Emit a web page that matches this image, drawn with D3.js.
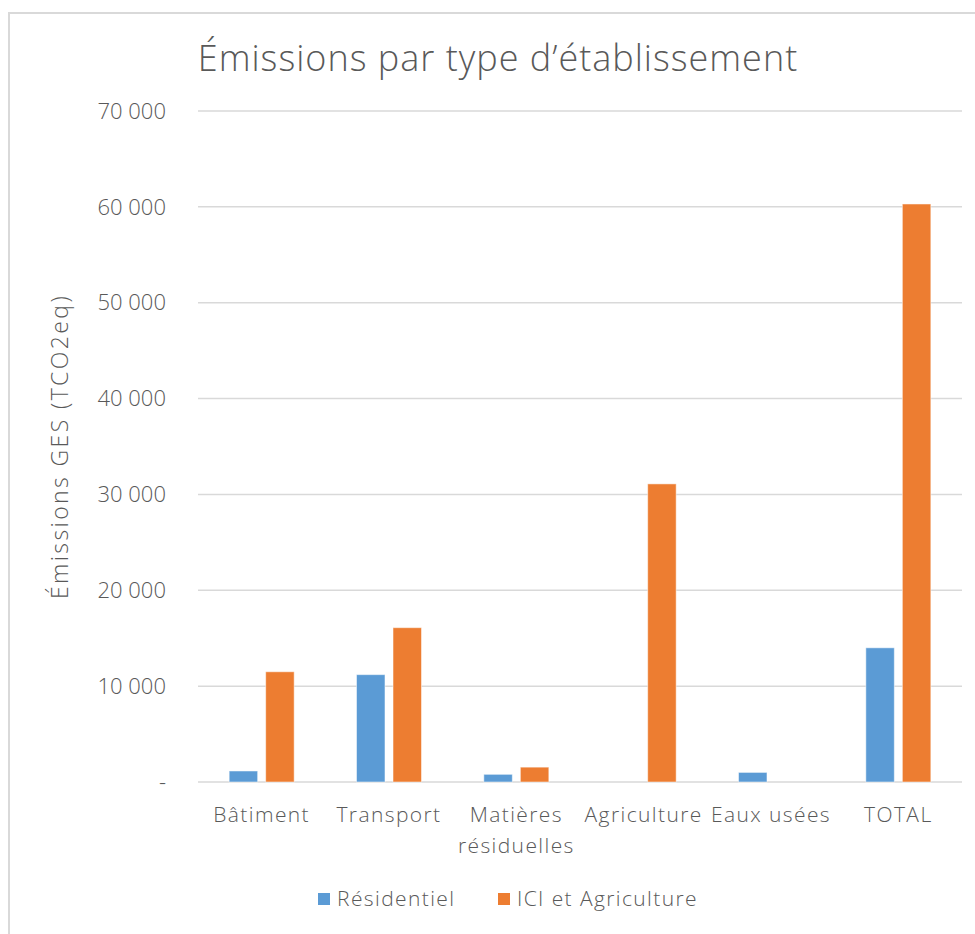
<!DOCTYPE html>
<html lang="fr">
<head>
<meta charset="UTF-8">
<title>Émissions par type d'établissement</title>
<style>
    body{ margin:0; background:white; }
    svg text{ font-family: "Open Sans", Lato, sans-serif; fill:#595959; font-weight:300; }
</style>
</head>
<body>
<script src="https://d3js.org/d3.v7.min.js"></script>
<script>

var categories = ["Bâtiment", "Transport", "Matières résiduelles", "Agriculture", "Eaux usées", "TOTAL"];
var series = ["Résidentiel", "ICI et Agriculture"];
var residentiel = [1150, 11200, 800, 0, 1000, 14000];
var iciAgriculture = [11500, 16100, 1550, 31100, 0, 60300];
var yTicks = [0, 10000, 20000, 30000, 40000, 50000, 60000, 70000];
var colors = ["#5b9bd5", "#ed7d31"];

var width = 975, height = 934;
var mLeft = 198, mRight = 962, mTop = 111, mBottom = 782;

var svg = d3.select("body").append("svg")
    .attr("width", width)
    .attr("height", height);

// frame
svg.append("rect")
    .attr("x", 9).attr("y", 13)
    .attr("width", width + 20).attr("height", height + 20)
    .style("fill", "white")
    .style("stroke", "#d9d9d9")
    .style("stroke-width", 2);

var x = d3.scaleBand()
    .domain(categories)
    .range([mLeft, mRight])
    .paddingInner(0).paddingOuter(0);

var y = d3.scaleLinear()
    .domain([0, 70000])
    .range([mBottom, mTop]);

var x1 = d3.scaleBand()
    .domain(series)
    .range([x.bandwidth()/2 - 32.5, x.bandwidth()/2 + 32.5])
    .paddingInner(0.22);

var fmt = function(d){ return d === 0 ? "-" : d3.format(",")(d).replace(/,/g, " "); };

// gridlines
svg.append("g").selectAll("line")
    .data(yTicks).enter().append("line")
    .attr("x1", mLeft).attr("x2", mRight)
    .attr("y1", function(d){ return y(d); })
    .attr("y2", function(d){ return y(d); })
    .style("stroke", "#d9d9d9")
    .style("stroke-width", 1.5);

// y axis labels
svg.append("g").selectAll("text")
    .data(yTicks).enter().append("text")
    .attr("x", 166)
    .attr("y", function(d){ return y(d); })
    .attr("dy", "0.35em")
    .attr("text-anchor", "end")
    .style("font-size", "22px")
    .text(fmt);

// bars
var rows = categories.map(function(c, i){
    return { cat: c, values: [residentiel[i], iciAgriculture[i]] };
});

var groups = svg.append("g").selectAll("g")
    .data(rows).enter().append("g")
    .attr("transform", function(d){ return "translate(" + x(d.cat) + ",0)"; });

groups.selectAll("rect")
    .data(function(d){ return d.values.map(function(v, j){ return { s: series[j], v: v, j: j }; }); })
    .enter().append("rect")
    .filter(function(d){ return d.v > 0; })
    .attr("x", function(d){ return x1(d.s); })
    .attr("width", x1.bandwidth())
    .attr("y", function(d){ return y(d.v); })
    .attr("height", function(d){ return y(0) - y(d.v); })
    .style("fill", function(d){ return colors[d.j]; })
    .style("stroke", "white")
    .style("stroke-opacity", 0.5)
    .style("stroke-width", 1);

// x labels
var xl = svg.append("g").selectAll("text")
    .data(categories).enter().append("text")
    .attr("x", function(d){ return x(d) + x.bandwidth()/2; })
    .attr("y", 822)
    .attr("text-anchor", "middle")
    .style("font-size", "21px")
    .style("letter-spacing", "1.4px");

xl.each(function(d){
    var t = d3.select(this);
    var parts = d === "Matières résiduelles" ? ["Matières", "résiduelles"] : [d];
    parts.forEach(function(p, i){
        t.append("tspan")
            .attr("x", x(d) + x.bandwidth()/2)
            .attr("dy", i === 0 ? 0 : 31)
            .text(p);
    });
});

// y axis title
svg.append("text")
    .attr("transform", "translate(68," + (mTop + mBottom)/2 + ") rotate(-90)")
    .attr("text-anchor", "middle")
    .style("font-size", "23px")
    .style("letter-spacing", "2.4px")
    .text("Émissions GES (TCO2eq)");

// title
svg.append("text")
    .attr("x", 498)
    .attr("y", 71)
    .attr("text-anchor", "middle")
    .style("font-size", "36px")
    .style("letter-spacing", "1px")
    .text("Émissions par type d’établissement");

// legend
var legendX = [318, 498];
var lg = svg.append("g").selectAll("g")
    .data(series).enter().append("g")
    .attr("transform", function(d, i){ return "translate(" + legendX[i] + ",893)"; });

lg.append("rect")
    .attr("width", 12).attr("height", 12)
    .style("fill", function(d, i){ return colors[i]; });

lg.append("text")
    .attr("x", 19).attr("y", 6)
    .attr("dy", "0.35em")
    .style("font-size", "21px")
    .style("letter-spacing", "1.4px")
    .text(function(d){ return d; });

</script>
</body>
</html>
